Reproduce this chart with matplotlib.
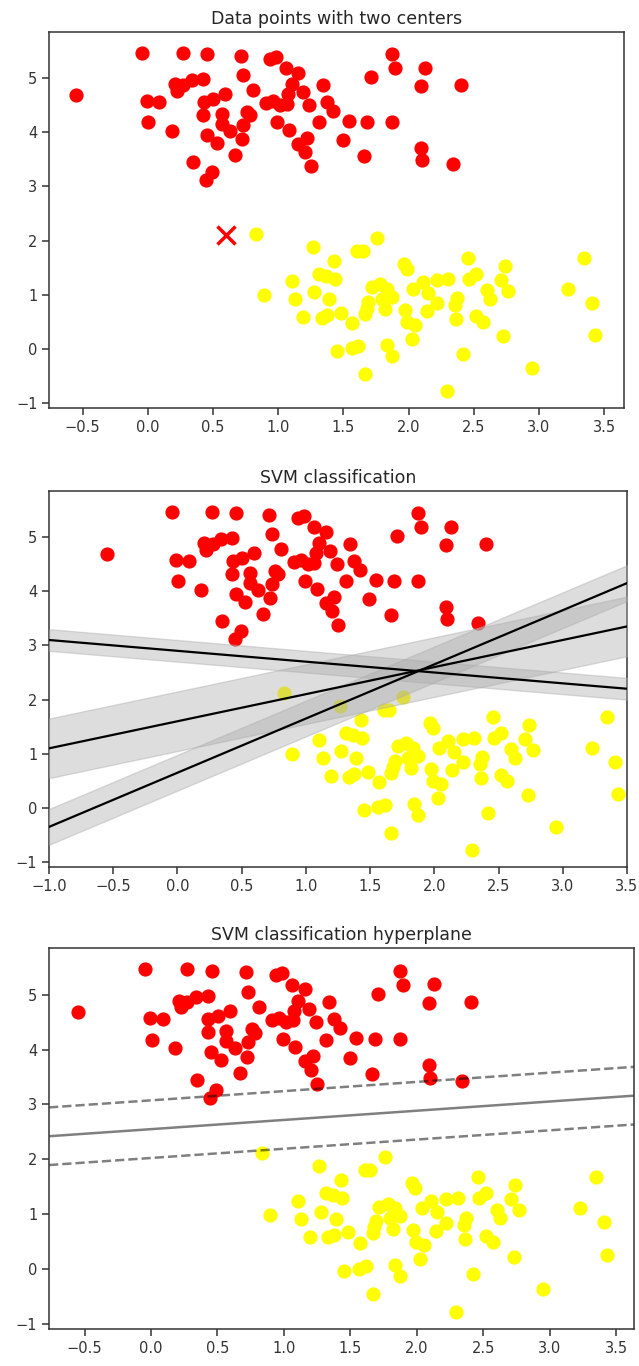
import numpy as np
import matplotlib
matplotlib.use('Agg')
import matplotlib.pyplot as plt

# two blob clusters (x, y)
red_pts = [(-0.55, 4.68),
           (-0.046, 5.47), (0.268, 5.46), (0.457, 5.44), (0.713, 5.41),
           (-0.008, 4.57), (0.089, 4.56), (0.005, 4.18), (0.184, 4.02),
           (0.209, 4.89), (0.222, 4.77), (0.273, 4.87), (0.337, 4.96), (0.426, 4.98),
           (0.733, 5.05), (0.81, 4.78),
           (0.432, 4.56), (0.503, 4.62), (0.593, 4.71),
           (0.426, 4.32), (0.567, 4.34), (0.567, 4.16), (0.631, 4.03), (0.721, 3.87),
           (0.759, 4.37), (0.785, 4.31), (0.733, 4.13),
           (0.452, 3.95), (0.529, 3.81), (0.669, 3.58), (0.345, 3.45), (0.491, 3.27), (0.447, 3.11),
           (0.938, 5.35), (0.984, 5.39), (1.06, 5.18), (1.155, 5.10), (1.104, 4.89), (1.078, 4.71),
           (1.342, 4.87), (1.189, 4.74), (1.239, 4.50),
           (0.907, 4.54), (0.963, 4.57), (1.015, 4.50), (1.066, 4.53),
           (1.377, 4.56), (1.419, 4.40), (1.545, 4.21), (1.316, 4.18),
           (0.994, 4.19), (1.086, 4.05), (1.155, 3.79), (1.219, 3.89), (1.206, 3.63), (1.25, 3.38),
           (1.495, 3.85),
           (1.871, 5.44), (1.896, 5.18), (2.127, 5.19), (1.71, 5.02), (2.093, 4.85), (2.403, 4.87),
           (1.684, 4.19), (1.871, 4.19), (1.659, 3.56), (2.093, 3.71), (2.101, 3.48), (2.339, 3.42)]

yellow_pts = [(0.831, 2.12), (1.265, 1.88), (1.429, 1.62), (1.607, 1.80), (1.649, 1.80),
              (1.756, 2.05), (1.965, 1.57), (1.986, 1.48), (2.46, 1.67), (2.74, 1.54), (3.346, 1.68),
              (1.104, 1.25), (1.316, 1.39), (1.367, 1.35), (1.436, 1.29), (0.892, 0.99),
              (1.13, 0.92), (1.275, 1.05), (1.39, 0.92), (1.193, 0.59), (1.334, 0.58),
              (1.373, 0.62), (1.48, 0.67), (1.569, 0.47),
              (1.449, -0.04), (1.564, 0.01), (1.615, 0.06), (1.666, -0.46),
              (1.718, 1.14), (1.781, 1.19), (1.833, 1.11), (1.871, 0.96), (1.692, 0.87),
              (1.795, 0.93), (1.82, 0.73), (1.666, 0.65), (1.679, 0.76),
              (2.037, 1.11), (2.109, 1.24), (2.152, 1.04), (2.221, 1.27), (2.305, 1.30),
              (2.37, 0.94), (2.357, 0.81), (2.221, 0.84), (2.14, 0.70), (1.973, 0.71),
              (1.991, 0.49), (2.05, 0.44), (2.364, 0.55), (2.025, 0.18),
              (1.838, 0.07), (1.871, -0.13), (2.42, -0.09), (2.293, -0.78),
              (2.466, 1.30), (2.518, 1.38), (2.707, 1.27), (2.765, 1.07), (2.60, 1.08),
              (2.625, 0.93), (3.226, 1.11), (3.41, 0.85), (2.518, 0.61), (2.569, 0.50),
              (2.727, 0.23), (3.43, 0.25), (2.949, -0.36)]

new_point = (0.6, 2.1)

# candidate separators: slope, intercept, half-width of margin
candidates = [(1.0, 0.65, 0.33), (0.5, 1.6, 0.55), (-0.2, 2.9, 0.2)]

# fitted linear SVM: w0*x + w1*y + b
svm_w = [-0.32, 1.905]
svm_b = -4.858

titles = ['Data points with two centers', 'SVM classification',
          'SVM classification hyperplane']

red = np.array(red_pts)
yel = np.array(yellow_pts)

W, H = 639, 1366
fig = plt.figure(figsize=(W / 100, H / 100), dpi=100)

def px_axes(l, r, t, b):
    return fig.add_axes([l / W, 1 - b / H, (r - l) / W, (b - t) / H])

ax1 = px_axes(49.3, 624.3, 32, 408)
ax2 = px_axes(49, 627, 491, 867)
ax3 = px_axes(49, 634, 948, 1329)

for ax, title in zip([ax1, ax2, ax3], titles):
    ax.scatter(red[:, 0], red[:, 1], s=85, color='red', zorder=2)
    ax.scatter(yel[:, 0], yel[:, 1], s=85, color='yellow', zorder=2)
    ax.set_title(title, fontsize=12.5, color='#262626')
    ax.tick_params(labelsize=10.5, length=5, width=1.1, colors='#333333')
    for s in ax.spines.values():
        s.set_linewidth(1.1)
        s.set_color('#333333')
    ax.set_ylim(-1.09, 5.85)
    ax.set_yticks(np.arange(-1, 6))

# panel 1: new point to classify
ax1.plot([new_point[0]], [new_point[1]], 'x', color='red', markeredgewidth=2.5, markersize=13)
ax1.set_xlim(-0.755, 3.655)
ax1.set_xticks(np.arange(-0.5, 3.6, 0.5))

# panel 2: several separating lines with margins
xfit = np.linspace(-1, 3.5)
for m, b, d in candidates:
    yfit = m * xfit + b
    ax2.plot(xfit, yfit, '-k', lw=1.6, zorder=5)
    ax2.fill_between(xfit, yfit - d, yfit + d, edgecolor='none',
                     color='#AAAAAA', alpha=0.4, zorder=4)
ax2.set_xlim(-1, 3.5)
ax2.set_xticks(np.arange(-1, 3.6, 0.5))

# panel 3: decision boundary and margins
ax3.set_xlim(-0.767, 3.632)
ax3.set_xticks(np.arange(-0.5, 3.6, 0.5))
gx = np.linspace(-0.767, 3.632, 60)
gy = np.linspace(-1.09, 5.85, 60)
GX, GY = np.meshgrid(gx, gy)
P = svm_w[0] * GX + svm_w[1] * GY + svm_b
ax3.contour(GX, GY, P, levels=[-1, 0, 1], colors='k', alpha=0.5,
            linestyles=['--', '-', '--'], linewidths=1.8)

fig.savefig('out.png', dpi=100)
